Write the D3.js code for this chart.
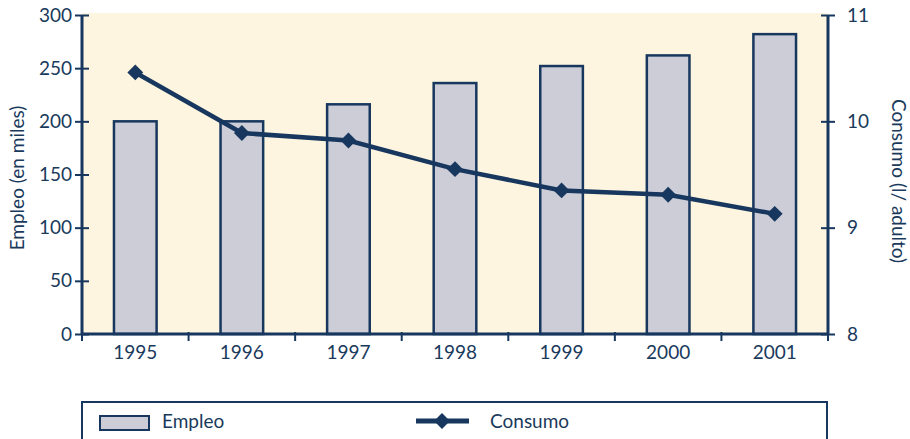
<!DOCTYPE html>
<html>
<head>
<meta charset="utf-8">
<script src="https://cdn.jsdelivr.net/npm/d3@7"></script>
<style>
  body { margin: 0; background: #fff; }
  svg text { font-family: "Lato", "Open Sans", sans-serif; fill: #1a3a5c; }
</style>
</head>
<body>
<div id="chart"></div>
<script>
// data
var years = ["1995", "1996", "1997", "1998", "1999", "2000", "2001"];
var empleo = [200, 200, 216, 236, 252, 262, 282];
var consumo = [10.46, 9.89, 9.82, 9.55, 9.35, 9.31, 9.13];
var leftTicks = [0, 50, 100, 150, 200, 250, 300];
var rightTicks = [8, 9, 10, 11];

var navy = "#17375e";
var svgWidth = 910, svgHeight = 439;

var svg = d3.select("#chart").append("svg")
  .attr("width", svgWidth)
  .attr("height", svgHeight);

var plot = { left: 82, right: 828, top: 15, bottom: 334 };

// plot background
svg.append("rect")
  .attr("x", plot.left)
  .attr("y", 13)
  .attr("width", plot.right - plot.left)
  .attr("height", plot.bottom - 13)
  .attr("fill", "#fdf5df");

var xScale = d3.scaleBand()
  .domain(years)
  .range([plot.left, plot.right])
  .paddingInner(0.6)
  .paddingOuter(0.3);

var xBand = d3.scaleBand().domain(years).range([plot.left, plot.right]);

var yLeft = d3.scaleLinear().domain([0, 300]).range([plot.bottom, plot.top]);
var yRight = d3.scaleLinear().domain([8, 11]).range([plot.bottom, plot.top]);

// bars
svg.selectAll("rect.bar")
  .data(empleo)
  .enter()
  .append("rect")
  .attr("class", "bar")
  .attr("x", (d, i) => xScale(years[i]))
  .attr("y", d => yLeft(d))
  .attr("width", xScale.bandwidth())
  .attr("height", d => plot.bottom - yLeft(d))
  .attr("fill", "#cdcdd7")
  .attr("stroke", navy)
  .attr("stroke-width", 2.5);

// axes
var leftAxis = svg.append("g")
  .attr("transform", `translate(${plot.left},0)`)
  .call(d3.axisLeft(yLeft).tickValues(leftTicks).tickSize(7).tickPadding(3));
leftAxis.selectAll(".tick line").clone().attr("x2", 7);

var rightAxis = svg.append("g")
  .attr("transform", `translate(${plot.right},0)`)
  .call(d3.axisRight(yRight).tickValues(rightTicks).tickFormat(d3.format("d")).tickSize(7).tickPadding(12));
rightAxis.selectAll(".tick line").clone().attr("x2", -7);

var bottomAxis = svg.append("g")
  .attr("transform", `translate(0,${plot.bottom})`)
  .call(d3.axisBottom(xBand).tickSize(0).tickPadding(12));

// band boundary ticks on x axis
var bounds = years.map(y => xBand(y)).concat([plot.right]);
svg.selectAll("line.xtick")
  .data(bounds)
  .enter()
  .append("line")
  .attr("x1", d => d).attr("x2", d => d)
  .attr("y1", plot.bottom - 2).attr("y2", plot.bottom + 7)
  .attr("stroke", navy)
  .attr("stroke-width", 2);

[leftAxis, rightAxis, bottomAxis].forEach(function(g) {
  g.select(".domain").attr("stroke", navy).attr("stroke-width", 3);
  g.selectAll(".tick line").attr("stroke", navy).attr("stroke-width", 2);
  g.selectAll(".tick text").attr("font-size", 19).attr("fill", navy);
});
leftAxis.select(".domain").attr("d", `M0,${plot.top}V${plot.bottom}`);
rightAxis.select(".domain").attr("d", `M0,${plot.top}V${plot.bottom}`);
bottomAxis.select(".domain").attr("d", `M${plot.left},0H${plot.right}`);

// consumo line
var line = d3.line()
  .x((d, i) => xBand(years[i]) + xBand.bandwidth() / 2)
  .y(d => yRight(d));

svg.append("path")
  .datum(consumo)
  .attr("d", line)
  .attr("fill", "none")
  .attr("stroke", navy)
  .attr("stroke-width", 4.5);

var diamond = d3.symbol().type(d3.symbolDiamond2).size(160);
svg.selectAll("path.pt")
  .data(consumo)
  .enter()
  .append("path")
  .attr("class", "pt")
  .attr("d", diamond)
  .attr("transform", (d, i) => `translate(${xBand(years[i]) + xBand.bandwidth() / 2},${yRight(d)})`)
  .attr("fill", navy);

// axis titles
svg.append("text")
  .attr("transform", "translate(24,178) rotate(-90)")
  .attr("text-anchor", "middle")
  .attr("font-size", 19)
  .text("Empleo (en miles)");

svg.append("text")
  .attr("transform", "translate(892,181) rotate(90)")
  .attr("text-anchor", "middle")
  .attr("font-size", 19)
  .text("Consumo (l/ adulto)");

// legend
svg.append("rect")
  .attr("x", 82).attr("y", 402)
  .attr("width", 745).attr("height", 40)
  .attr("fill", "#fff")
  .attr("stroke", navy)
  .attr("stroke-width", 2);

svg.append("rect")
  .attr("x", 100).attr("y", 416)
  .attr("width", 49).attr("height", 14)
  .attr("fill", "#cdcdd7")
  .attr("stroke", navy)
  .attr("stroke-width", 2);

svg.append("text")
  .attr("x", 162).attr("y", 428)
  .attr("font-size", 19)
  .text("Empleo");

svg.append("line")
  .attr("x1", 416).attr("x2", 469)
  .attr("y1", 421).attr("y2", 421)
  .attr("stroke", navy)
  .attr("stroke-width", 5);

svg.append("path")
  .attr("d", diamond)
  .attr("transform", "translate(442,421)")
  .attr("fill", navy);

svg.append("text")
  .attr("x", 490).attr("y", 428)
  .attr("font-size", 19)
  .text("Consumo");
</script>
</body>
</html>
